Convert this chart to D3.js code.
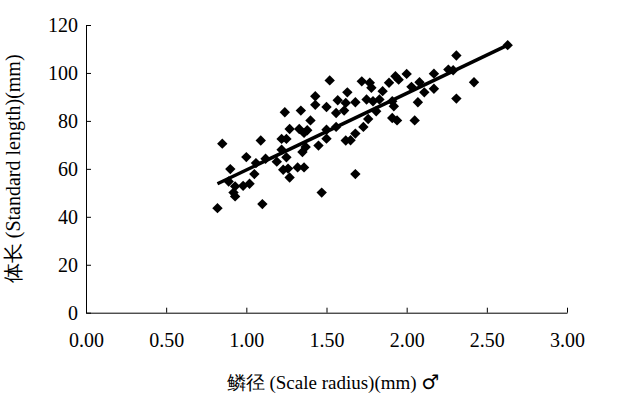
<!DOCTYPE html>
<html>
<head>
<meta charset="utf-8">
<script src="https://cdn.jsdelivr.net/npm/d3@7"></script>
<style>
    body { margin: 0; background: #fff; }
    text { font-family: "Liberation Serif", "Times New Roman", serif; fill: #000; }
</style>
</head>
<body>
<script>
const width = 628
const height = 399

// scale radius (mm) and standard length (mm)
const scaleRadius = [
    0.82, 0.85, 1.10, 1.47, 1.52, 1.24, 1.34, 1.40, 1.43, 1.43,
    1.50, 1.57, 1.63, 1.62, 1.56, 1.61, 1.68, 1.27, 1.33, 1.38,
    1.09, 1.22, 1.25, 1.22, 1.25, 1.19, 1.12, 1.00, 1.06, 0.90,
    1.05, 0.98, 1.02, 0.93, 0.92, 0.93, 1.23, 1.26, 1.27, 1.32,
    1.36, 1.35, 1.45, 1.50, 1.56, 1.62, 1.65, 1.68, 1.68, 1.37,
    2.63, 2.31, 2.42, 2.31, 2.26, 2.29, 2.17, 2.17, 2.07, 2.05,
    1.94, 1.91, 2.08, 2.03, 2.11, 2.00, 1.93, 1.95, 1.89, 1.91,
    1.85, 1.83, 1.81, 1.76, 1.73, 1.72, 1.77, 1.78, 1.75, 1.79,
    0.89, 1.92, 1.36, 1.50
]
const stdLength = [
    43.6, 70.5, 45.3, 50.1, 96.9, 83.6, 84.3, 80.2, 90.3, 86.7,
    85.8, 88.6, 91.9, 87.5, 83.3, 84.3, 87.8, 76.6, 76.6, 76.1,
    71.8, 72.5, 72.5, 68.0, 64.8, 63.0, 64.2, 64.9, 62.4, 59.9,
    57.8, 52.9, 53.8, 52.7, 50.1, 48.5, 59.6, 60.1, 56.4, 60.6,
    60.6, 67.0, 69.7, 72.6, 77.5, 71.8, 71.9, 57.8, 74.7, 69.1,
    111.6, 107.3, 96.1, 89.3, 101.4, 101.1, 99.7, 93.4, 87.8, 80.2,
    80.2, 81.2, 96.1, 94.2, 91.9, 99.6, 98.6, 97.2, 95.9, 88.2,
    92.4, 88.9, 84.0, 80.8, 77.5, 96.5, 95.9, 93.8, 88.9, 88.2,
    54.7, 86.1, 75.0, 76.3
]
const trendX = [0.82, 2.63]
const trendY = [53.8, 111.6]
const xTicks = [0, 0.5, 1, 1.5, 2, 2.5, 3]
const yTicks = [0, 20, 40, 60, 80, 100, 120]

const plotLeft = 86
const plotRight = 567
const plotTop = 25
const plotBottom = 312.7

const svg = d3.select("body")
    .append("svg")
    .attr("width", width)
    .attr("height", height)

const x = d3.scaleLinear().domain([0, 3]).range([plotLeft, plotRight])
const y = d3.scaleLinear().domain([0, 120]).range([plotBottom, plotTop])

const xAxis = svg.append("g")
    .attr("transform", `translate(0,${plotBottom})`)
    .call(d3.axisBottom(x)
        .tickValues(xTicks)
        .tickFormat(d3.format(".2f"))
        .tickSizeInner(-5)
        .tickSizeOuter(0)
        .tickPadding(20))
const yAxis = svg.append("g")
    .attr("transform", `translate(${plotLeft},0)`)
    .call(d3.axisLeft(y)
        .tickValues(yTicks)
        .tickSizeInner(-5)
        .tickSizeOuter(0)
        .tickPadding(8))
for (let axis of [xAxis, yAxis]) {
    axis.attr("font-family", null).attr("font-size", null)
    axis.selectAll("text").style("font-size", "20px")
    axis.selectAll("path, line").attr("stroke", "#000").attr("stroke-width", 1)
}

// trend line
svg.append("path")
    .datum(d3.zip(trendX, trendY))
    .attr("d", d3.line().x(d => x(d[0])).y(d => y(d[1])))
    .attr("fill", "none")
    .attr("stroke", "#000")
    .attr("stroke-width", 3.5)

// diamonds
const diamond = d3.symbol(d3.symbolSquare, 54)
svg.append("g")
    .selectAll("path")
    .data(d3.zip(scaleRadius, stdLength))
    .join("path")
    .attr("d", diamond)
    .attr("transform", d => `translate(${x(d[0])},${y(d[1])}) rotate(45)`)
    .attr("fill", "#000")

const xLabel = svg.append("text")
    .attr("x", 333)
    .attr("y", 389)
    .attr("text-anchor", "middle")
    .style("font-size", "19px")
xLabel.append("tspan").text("鳞径 (Scale radius)(mm) ")
xLabel.append("tspan")
    .style("font-family", "DejaVu Sans")
    .style("font-size", "20px")
    .text("♂")

svg.append("text")
    .attr("transform", `translate(20,${(plotTop + plotBottom) / 2}) rotate(-90)`)
    .attr("text-anchor", "middle")
    .style("font-size", "20px")
    .text("体长 (Standard length)(mm)")
</script>
</body>
</html>
